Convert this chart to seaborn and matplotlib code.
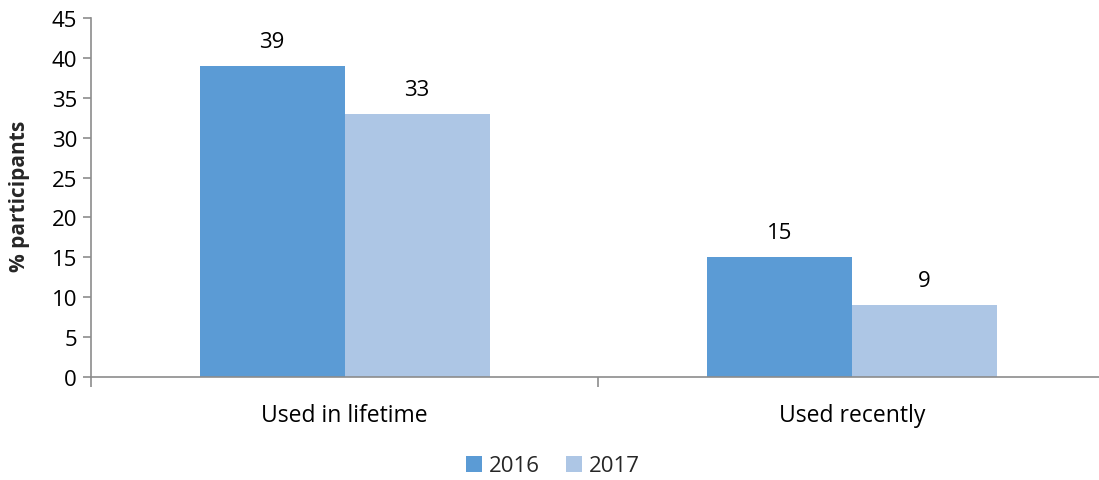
import matplotlib
matplotlib.use("Agg")
import matplotlib.pyplot as plt
import seaborn as sns
import pandas as pd
from matplotlib.ticker import FixedLocator, MultipleLocator

categories = ["Used in lifetime", "Used recently"]
years = ["2016", "2017"]
values_2016 = [39, 15]
values_2017 = [33, 9]
colors = ["#5B9BD5", "#ADC6E5"]

df = pd.DataFrame({
    "category": categories * 2,
    "year": [years[0]] * 2 + [years[1]] * 2,
    "value": values_2016 + values_2017,
})

sns.set_theme(style="white")
plt.rcParams["font.family"] = ["Open Sans", "DejaVu Sans"]
FS = 16

fig = plt.figure(figsize=(10.99, 4.81), dpi=100)
ax = fig.add_axes([91 / 1099, 1 - 378 / 481, (1105.5 - 91) / 1099, (378 - 19) / 481])

sns.barplot(data=df, x="category", y="value", hue="year", palette=colors,
            width=0.572, gap=0, saturation=1, linewidth=0, ax=ax, legend=True)

ax.set_xlim(-0.5, 1.5)
ax.set_ylim(0, 45)
ax.yaxis.set_major_locator(MultipleLocator(5))

for c in ax.containers:
    ax.bar_label(c, fmt="%g", padding=10, fontsize=FS, color="#000000")

for s in ["top", "right"]:
    ax.spines[s].set_visible(False)
for s in ["left", "bottom"]:
    ax.spines[s].set_color("#8C8C8C")
    ax.spines[s].set_linewidth(1.2)

ax.tick_params(axis="y", which="major", left=True, length=6, width=1.2, color="#8C8C8C",
               labelsize=FS, pad=4, labelcolor="#000000")
ax.tick_params(axis="x", which="major", bottom=False, labelsize=16.5, pad=13, labelcolor="#000000")
ax.xaxis.set_minor_locator(FixedLocator([-0.5, 0.5, 1.5]))
ax.tick_params(axis="x", which="minor", bottom=True, length=7, width=1.2, color="#8C8C8C")

ax.set_xlabel("")
ax.set_ylabel("% participants", fontsize=15, fontweight="bold")
ax.yaxis.set_label_coords((30 - 91) / 1014.5, (378 - 196) / 359, transform=ax.transAxes)

leg = ax.legend(loc="center", bbox_to_anchor=((553 - 91) / (1105.5 - 91), (378 - 467) / (378 - 19)),
                ncol=2, frameon=False, fontsize=FS, handlelength=0.7, handleheight=0.7,
                handletextpad=0.3, columnspacing=1.2)

fig.savefig("out.png", dpi=100)
